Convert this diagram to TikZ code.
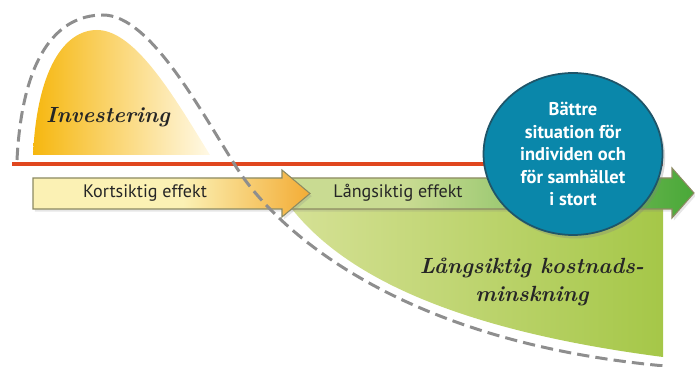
\documentclass[tikz,border=0pt]{standalone}
\usepackage{fontspec}
\setsansfont{PT Sans}
\usetikzlibrary{shapes.geometric}
\usetikzlibrary{shadows}

\definecolor{redline}{HTML}{E0461E}
\definecolor{dashgray}{HTML}{8E8E8E}
\definecolor{barline}{HTML}{8C8A62}
\definecolor{invA}{HTML}{F6B70F}
\definecolor{invB}{HTML}{FFF9E6}
\definecolor{kortA}{HTML}{FBF1B4}
\definecolor{kortB}{HTML}{F3AC35}
\definecolor{langA}{HTML}{C9DB92}
\definecolor{langB}{HTML}{49A838}
\definecolor{areaA}{HTML}{F5F2C8}
\definecolor{areaB}{HTML}{A5C748}
\definecolor{circfill}{HTML}{0A87AA}
\definecolor{circline}{HTML}{1F5569}

\pgfdeclarehorizontalshading{kortfade}{100bp}{color(0bp)=(kortA); color(25bp)=(kortA); color(52bp)=(kortA); color(75bp)=(kortB); color(100bp)=(kortB)}
\pgfdeclarehorizontalshading{langfade}{100bp}{color(0bp)=(langA); color(25bp)=(langA); color(40bp)=(langA); color(75bp)=(langB); color(100bp)=(langB)}

\begin{document}
\begin{tikzpicture}[
                x=0.02cm, y=-0.02cm,
                bar/.style={draw=barline, line width=0.6pt, drop shadow={opacity=0.2, shadow xshift=1pt, shadow yshift=-1.5pt}},
                dashcurve/.style={draw=dashgray, line width=1.7pt, dash pattern=on 7pt off 3.5pt},
                effect/.style={font=\sffamily\fontsize{10.3}{12}\selectfont, text=black!85},
                bigtext/.style={font=\bfseries\itshape\fontsize{12.5}{16}\selectfont, align=center, text=black!85}
            ]
            \useasboundingbox (0,0) rectangle (695,367);

            % Areas
            \shade[left color=areaB!40!areaA, right color=areaB]
                (292,209) -- (663,209) -- (663,357)
                .. controls (470,332) and (350,282) .. (292,209) -- cycle;
            \shade[left color=invA, right color=invB]
                (33,155) .. controls (37,70) and (64,30) .. (97,30)
                .. controls (136,30) and (176,100) .. (210,155) -- cycle;

            % Zero line
            \draw[redline, line width=2.2pt] (12,164) -- (663,164);

            % Arrows
            \path[bar, shade, shading=langfade]
                (282,178) -- (672,178) -- (672,168) -- (694,193) -- (672,218) -- (672,209) -- (282,209) -- cycle;
            \path[bar, shade, shading=kortfade]
                (33,178) -- (282,178) -- (282,170) -- (310,193.5) -- (282,217) -- (282,209) -- (33,209) -- cycle;

            % Dashed curve
            \draw[dashcurve] (17,160) .. controls (22,60) and (55,15) .. (103,15)
                .. controls (150,15) and (200,110) .. (235,165)
                .. controls (265,215) and (380,340) .. (665,366);

            % Circle
            \node[ellipse, minimum width=3.58cm, minimum height=3.24cm, inner sep=0pt,
                  fill=circfill, draw=circline, line width=1pt,
                  drop shadow={opacity=0.3, shadow xshift=1.5pt, shadow yshift=-2pt},
                  text=white, align=center, font=\sffamily\bfseries\fontsize{10.5}{12.8}\selectfont]
                (result) at (573,154) {Bättre\\situation för\\individen och\\för samhället\\i stort};

            % Labels
            \node[bigtext] (invest) at (108,117) {Investering};
            \node[effect] (short) at (145,193) {Kortsiktig effekt};
            \node[effect] (long) at (398,193) {Långsiktig effekt};
            \node[bigtext] (saving) at (532,282) {Långsiktig kostnads-\\minskning};

        \end{tikzpicture}
\end{document}
